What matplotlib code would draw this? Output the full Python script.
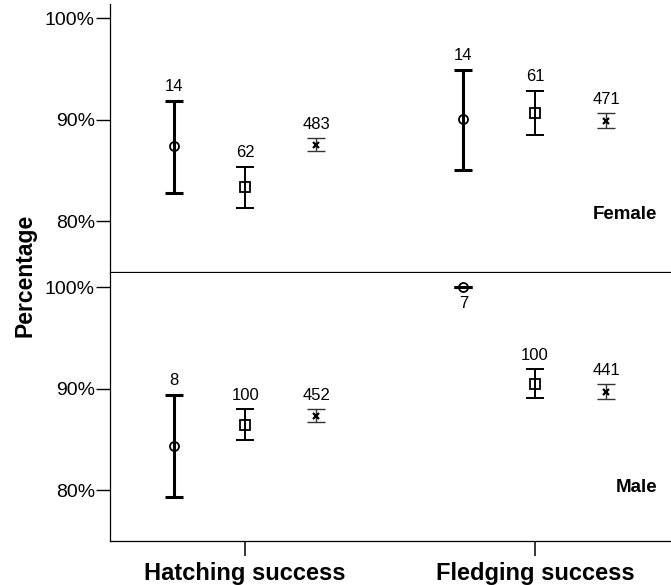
import matplotlib
matplotlib.use("Agg")
import matplotlib.pyplot as plt
import numpy as np

plt.rcParams['font.family'] = ['Liberation Sans', 'DejaVu Sans']

categories = ["Hatching success", "Fledging success"]
panel_names = ["Female", "Male"]
yticks = [80, 90, 100]
ytick_labels = ["80%", "90%", "100%"]

# rows: circle, square, cross series ; columns: hatching, fledging
fem_mean = [[87.37, 90.07], [83.34, 90.66], [87.51, 89.93]]
fem_low = [[82.80, 85.05], [81.28, 88.46], [86.88, 89.24]]
fem_high = [[91.90, 94.95], [85.38, 92.88], [88.16, 90.62]]
fem_n = [[14, 14], [62, 61], [483, 471]]

male_mean = [[84.40, 100.0], [86.47, 90.51], [87.36, 89.72]]
male_low = [[79.38, 100.0], [85.00, 89.09], [86.70, 88.97]]
male_high = [[89.43, 100.0], [88.01, 91.92], [88.01, 90.47]]
male_n = [[8, 7], [100, 100], [452, 441]]

markers = ["o", "s", "x"]
offsets = [-0.247, 0.0, 0.245]
lws = [2.2, 1.4, 1.0]
colors = ["black", "black", "#333333"]

fig = plt.figure(figsize=(6.71, 5.85), dpi=100)
ax_top = fig.add_axes([0.164, 0.535, 0.836, 0.458])
ax_bot = fig.add_axes([0.164, 0.0752, 0.836, 0.458], sharex=ax_top)

x = np.arange(len(categories))

panels = [
    (ax_top, fem_mean, fem_low, fem_high, fem_n),
    (ax_bot, male_mean, male_low, male_high, male_n),
]

for ax, mean, low, high, nn in panels:
    for i in range(3):
        m = np.array(mean[i])
        lo = np.array(low[i])
        hi = np.array(high[i])
        xs = x + offsets[i]
        ax.errorbar(xs, m, yerr=[m - lo, hi - m], fmt="none", ecolor=colors[i],
                    elinewidth=lws[i], capsize=6.5, capthick=lws[i], zorder=2)
        if markers[i] == "x":
            ax.plot(xs, m, linestyle="none", marker="x", markersize=4, mew=1.6,
                    color="black", zorder=3)
        else:
            # hollow markers, the bar shows through like in the original
            ax.plot(xs, m, linestyle="none", marker=markers[i], markersize=6.5,
                    mfc="none", mec="black", mew=1.3, zorder=3)
        for j in range(len(categories)):
            if hi[j] >= 100:
                ax.annotate(str(nn[i][j]), (xs[j], lo[j]), xytext=(0, -12),
                            textcoords="offset points", ha="center", va="center",
                            fontsize=12)
            else:
                ax.annotate(str(nn[i][j]), (xs[j], hi[j]), xytext=(0, 10),
                            textcoords="offset points", ha="center", va="center",
                            fontsize=12)
    ax.set_ylim(75, 101.4)
    ax.set_yticks(yticks)
    ax.set_yticklabels(ytick_labels, fontsize=14)
    ax.tick_params(axis="y", length=10, width=1, pad=1)
    ax.spines["top"].set_visible(False)
    ax.spines["right"].set_visible(False)
    ax.spines["left"].set_linewidth(0.9)
    ax.spines["bottom"].set_linewidth(0.9)

ax_top.text(0.975, 0.215, panel_names[0], transform=ax_top.transAxes, ha="right",
            va="center", fontsize=13.5, fontweight="bold")
ax_bot.text(0.975, 0.20, panel_names[1], transform=ax_bot.transAxes, ha="right",
            va="center", fontsize=13.5, fontweight="bold")

ax_top.tick_params(axis="x", bottom=False, labelbottom=False)
ax_bot.set_xlim(-0.466, 1.469)
ax_bot.set_xticks(x)
ax_bot.set_xticklabels(categories, fontsize=17, fontweight="bold")
ax_bot.tick_params(axis="x", length=11, width=1.1, pad=4)

fig.text(0.037, 0.53, "Percentage", rotation=90, ha="center", va="center",
         fontsize=16.5, fontweight="bold")

fig.savefig("out.png", dpi=100)
